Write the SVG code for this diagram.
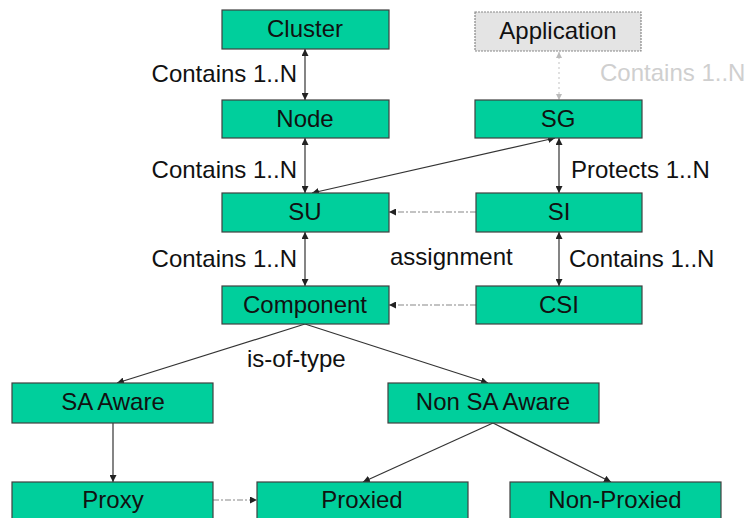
<svg xmlns="http://www.w3.org/2000/svg" width="751" height="518" viewBox="0 0 751 518">
<style>
.n rect{fill:#00cf9c;stroke:#404040;stroke-width:1.2}
.n text,.l{font-family:"Liberation Sans",Arial,sans-serif;font-size:24px;fill:#111}
.n text{text-anchor:middle}
.c line{stroke:#333;stroke-width:1.2;fill:none}
.c .d{stroke:#888;stroke-dasharray:6 2 2 2}
.c .g{stroke:#ccc;stroke-dasharray:2 3}
</style>
<defs>
<marker id="a" viewBox="0 0 10 10" refX="10" refY="5" markerWidth="7" markerHeight="7" orient="auto-start-reverse" markerUnits="userSpaceOnUse"><path d="M0,0L10,5L0,10z" fill="#222"/></marker>
<marker id="ag" viewBox="0 0 10 10" refX="10" refY="5" markerWidth="6" markerHeight="6" orient="auto-start-reverse" markerUnits="userSpaceOnUse"><path d="M0,0L10,5L0,10z" fill="#bbb"/></marker>
</defs>
<g class="c" id="connectors">
<line x1="305" y1="49" x2="305" y2="100" marker-start="url(#a)" marker-end="url(#a)"/>
<line x1="305" y1="138" x2="305" y2="193" marker-start="url(#a)" marker-end="url(#a)"/>
<line x1="305" y1="232" x2="305" y2="286" marker-start="url(#a)" marker-end="url(#a)"/>
<line x1="312" y1="193" x2="555" y2="138" marker-start="url(#a)" marker-end="url(#a)"/>
<line class="g" x1="559" y1="52" x2="559" y2="100" marker-start="url(#ag)" marker-end="url(#ag)"/>
<line x1="559" y1="138" x2="559" y2="193" marker-start="url(#a)" marker-end="url(#a)"/>
<line x1="559" y1="232" x2="559" y2="286" marker-start="url(#a)" marker-end="url(#a)"/>
<line class="d" x1="476" y1="212" x2="389" y2="212" marker-end="url(#a)"/>
<line class="d" x1="476" y1="305" x2="389" y2="305" marker-end="url(#a)"/>
<line x1="305" y1="324" x2="117" y2="383" marker-end="url(#a)"/>
<line x1="305" y1="324" x2="488" y2="383" marker-end="url(#a)"/>
<line x1="113" y1="423" x2="113" y2="482" marker-end="url(#a)"/>
<line class="d" x1="213" y1="500" x2="257" y2="500" marker-end="url(#a)"/>
<line x1="493" y1="423" x2="363" y2="482" marker-end="url(#a)"/>
<line x1="493" y1="423" x2="611" y2="482" marker-end="url(#a)"/>
</g>
<g class="n" id="cluster"><rect x="222" y="10" width="167" height="39"/><text x="305" y="37">Cluster</text></g>
<g class="n" id="node"><rect x="222" y="100" width="167" height="38"/><text x="305" y="127">Node</text></g>
<g class="n" id="su"><rect x="222" y="193" width="167" height="39"/><text x="305" y="220">SU</text></g>
<g class="n" id="component"><rect x="222" y="286" width="167" height="38"/><text x="305" y="313">Component</text></g>
<g class="n" id="application"><rect x="475" y="12" width="166" height="39" style="fill:#e4e4e4;stroke:#888;stroke-dasharray:2 1"/><text x="558" y="39">Application</text></g>
<g class="n" id="sg"><rect x="475" y="100" width="167" height="38"/><text x="558" y="127">SG</text></g>
<g class="n" id="si"><rect x="476" y="193" width="166" height="39"/><text x="559" y="220">SI</text></g>
<g class="n" id="csi"><rect x="476" y="286" width="166" height="38"/><text x="559" y="313">CSI</text></g>
<g class="n" id="sa-aware"><rect x="12" y="383" width="201" height="40"/><text x="113" y="410">SA Aware</text></g>
<g class="n" id="non-sa-aware"><rect x="388" y="383" width="211" height="40"/><text x="493" y="410">Non SA Aware</text></g>
<g class="n" id="proxy"><rect x="12" y="482" width="201" height="45"/><text x="113" y="508">Proxy</text></g>
<g class="n" id="proxied"><rect x="257" y="482" width="211" height="45"/><text x="362" y="508">Proxied</text></g>
<g class="n" id="non-proxied"><rect x="510" y="482" width="211" height="45"/><text x="615" y="508">Non-Proxied</text></g>
<g id="labels">
<text class="l" x="297" y="82" text-anchor="end">Contains 1..N</text>
<text class="l" x="297" y="178" text-anchor="end">Contains 1..N</text>
<text class="l" x="297" y="267" text-anchor="end">Contains 1..N</text>
<text class="l" x="600" y="81" style="fill:#cfcfcf">Contains 1..N</text>
<text class="l" x="571" y="178">Protects 1..N</text>
<text class="l" x="569" y="267">Contains 1..N</text>
<text class="l" x="390" y="265">assignment</text>
<text class="l" x="247" y="367">is-of-type</text>
</g>
</svg>
